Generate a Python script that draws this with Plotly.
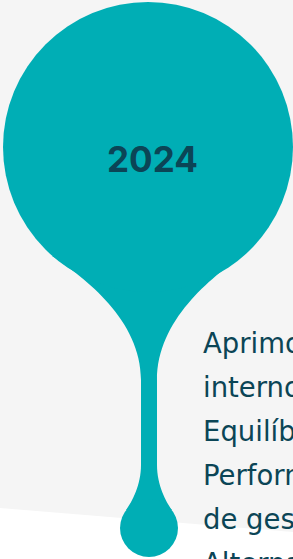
import numpy as np
import plotly.graph_objects as go

W, H = 293, 559
TEAL = "#00AEB5"
DARK = "#0B4556"
BG_GREY = "#F5F5F5"

year_label = ["2024"]
body_lines = ["Aprimoramento dos controles", "internos", "Equilíbrio", "Performance", "de gestão", "Alternativas"]

# geometry (pixel space)
head = dict(cx=148, cy=147, r=145)
bulb = dict(cx=149, cy=528, r=29)

fig = go.Figure()

shapes = []
# grey background with slanted lower edge
shapes.append(dict(type="path", path="M 0 0 L 293 0 L 293 532 L 0 508 Z",
                   fillcolor=BG_GREY, line=dict(width=0), layer="below"))
# neck
neck = ("M 52 256 C 85 278 141 320 141 380 L 141 465 C 141 485 132 502 126 510 "
        "L 172 510 C 166 502 157 485 157 465 L 157 380 C 157 320 211 278 243 255 Z")
shapes.append(dict(type="path", path=neck, fillcolor=TEAL, line=dict(width=0)))
for c in (head, bulb):
    shapes.append(dict(type="circle", x0=c["cx"] - c["r"], x1=c["cx"] + c["r"],
                       y0=c["cy"] - c["r"], y1=c["cy"] + c["r"],
                       fillcolor=TEAL, line=dict(width=0)))

annotations = [dict(x=152, y=159, text=f"<b>{year_label[0]}</b>", showarrow=False,
                    font=dict(family="Inter", size=35, color=DARK),
                    xanchor="center", yanchor="middle")]
baselines = [353, 397, 441, 485, 529, 573]
for txt, yb in zip(body_lines, baselines):
    annotations.append(dict(x=201, y=1 - yb / H, yref="paper", text=txt, showarrow=False,
                            font=dict(family="DejaVu Sans", size=27.5, color=DARK),
                            xanchor="left", yanchor="bottom", yshift=-8))

fig.update_layout(
    width=W, height=H, margin=dict(l=0, r=0, t=0, b=0),
    paper_bgcolor="white", plot_bgcolor="white",
    xaxis=dict(range=[0, W], visible=False, fixedrange=True),
    yaxis=dict(range=[H, 0], visible=False, fixedrange=True),
    shapes=shapes, annotations=annotations, showlegend=False,
)
fig.write_html("out.html", config={"displayModeBar": False},
               post_script="document.body.style.margin='0';document.body.style.padding='0';document.body.style.overflow='hidden';")
